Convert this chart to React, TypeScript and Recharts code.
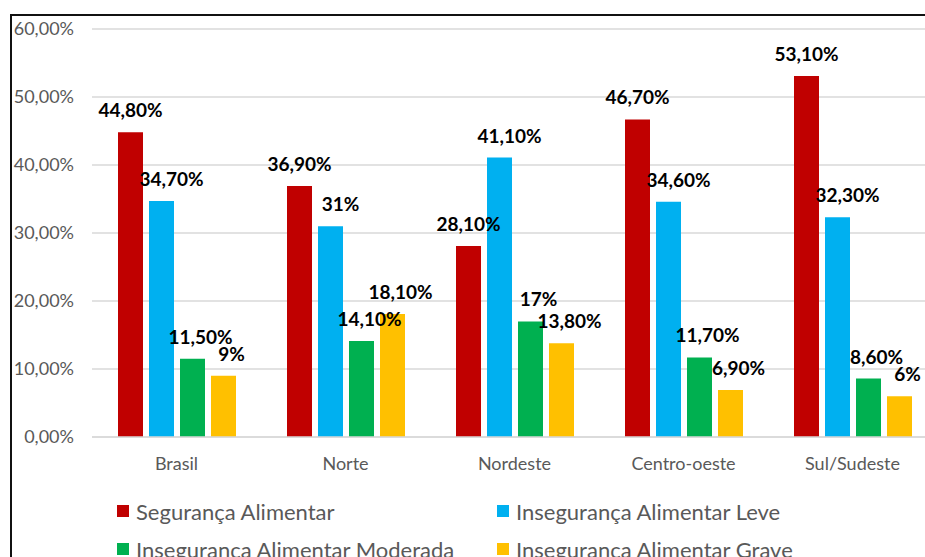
import React from "react";
import { BarChart, Bar, XAxis, YAxis, CartesianGrid, Legend, LabelList } from "recharts";

const categories = ["Brasil", "Norte", "Nordeste", "Centro-oeste", "Sul/Sudeste"];
const seguranca = [44.8, 36.9, 28.1, 46.7, 53.1];
const insegLeve = [34.7, 31, 41.1, 34.6, 32.3];
const insegModerada = [11.5, 14.1, 17, 11.7, 8.6];
const insegGrave = [9, 18.1, 13.8, 6.9, 6];
const yTicks = [0, 10, 20, 30, 40, 50, 60];

const seriesNames = [
  "Segurança Alimentar",
  "Insegurança Alimentar Leve",
  "Insegurança Alimentar Moderada",
  "Insegurança Alimentar Grave",
];

const data = categories.map((c, i) => ({
  name: c,
  s: seguranca[i],
  l: insegLeve[i],
  m: insegModerada[i],
  g: insegGrave[i],
}));

const FONT = "Lato, 'Liberation Sans', sans-serif";
const GRAY = "#595959";

const fmtLabel = (v: number) =>
  Number.isInteger(v) ? `${v}%` : `${v.toFixed(2).replace(".", ",")}%`;
const fmtTick = (v: number) => `${v.toFixed(2).replace(".", ",")}%`;

const makeLabel = (dx: number) => (props: any) => {
  const { x, y, width, value } = props;
  return (
    <text
      x={Number(x) + Number(width) / 2 + dx}
      y={Number(y) - 15}
      textAnchor="middle"
      fontFamily={FONT}
      fontSize={19}
      fontWeight={700}
      fill="#000"
    >
      {fmtLabel(Number(value))}
    </text>
  );
};

const LegendContent = (props: any) => {
  const payload = [...(props.payload || [])].sort(
    (a: any, b: any) => seriesNames.indexOf(a.value) - seriesNames.indexOf(b.value)
  );
  return (
    <div
      style={{
        display: "grid",
        gridTemplateColumns: "380px 380px",
        rowGap: 14,
        fontFamily: FONT,
        fontSize: 22,
        color: GRAY,
      }}
    >
      {payload.map((p: any) => (
        <div key={p.value} style={{ display: "flex", alignItems: "center", height: 24, whiteSpace: "nowrap" }}>
          <span style={{ width: 12, height: 12, background: p.color, display: "inline-block", marginRight: 7, flex: "none" }} />
          <span>{p.value}</span>
        </div>
      ))}
    </div>
  );
};

export default function App() {
  return (
    <div style={{ position: "fixed", left: 0, top: 0, width: 925, height: 557, overflow: "hidden", background: "#fff" }}>
      <div
        style={{
          position: "absolute",
          left: 10,
          top: 14,
          width: 1000,
          height: 700,
          border: "2px solid #111",
          boxSizing: "border-box",
        }}
      />
      <div style={{ position: "absolute", left: 0, top: 0 }}>
        <BarChart
          width={1000}
          height={557}
          data={data}
          margin={{ top: 29, right: 63, left: 0, bottom: 80 }}
          barCategoryGap={26}
          barGap={6}
        >
          <CartesianGrid vertical={false} stroke="#d9d9d9" strokeWidth={1.5} />
          <XAxis
            dataKey="name"
            height={40}
            tickLine={false}
            tickSize={0}
            tickMargin={20}
            axisLine={{ stroke: "#d9d9d9", strokeWidth: 1.5 }}
            tick={{ fill: GRAY, fontSize: 18, fontFamily: FONT }}
            interval={0}
          />
          <YAxis
            width={92}
            domain={[0, 60]}
            ticks={yTicks}
            tickFormatter={fmtTick}
            axisLine={false}
            tickLine={false}
            tickSize={0}
            tickMargin={18}
            tick={{ fill: GRAY, fontSize: 18, fontFamily: FONT }}
          />
          <Legend
            layout="horizontal"
            verticalAlign="middle"
            align="center"
            itemSorter={null as any}
            wrapperStyle={{ top: 499, left: 117, width: 780, height: 70 }}
            content={LegendContent}
          />
          <Bar dataKey="s" name={seriesNames[0]} fill="#C00000" isAnimationActive={false}>
            <LabelList dataKey="s" content={makeLabel(0)} />
          </Bar>
          <Bar dataKey="l" name={seriesNames[1]} fill="#00B0F0" isAnimationActive={false}>
            <LabelList dataKey="l" content={makeLabel(10)} />
          </Bar>
          <Bar dataKey="m" name={seriesNames[2]} fill="#00B050" isAnimationActive={false}>
            <LabelList dataKey="m" content={makeLabel(8)} />
          </Bar>
          <Bar dataKey="g" name={seriesNames[3]} fill="#FFC000" isAnimationActive={false}>
            <LabelList dataKey="g" content={makeLabel(8)} />
          </Bar>
        </BarChart>
      </div>
    </div>
  );
}
